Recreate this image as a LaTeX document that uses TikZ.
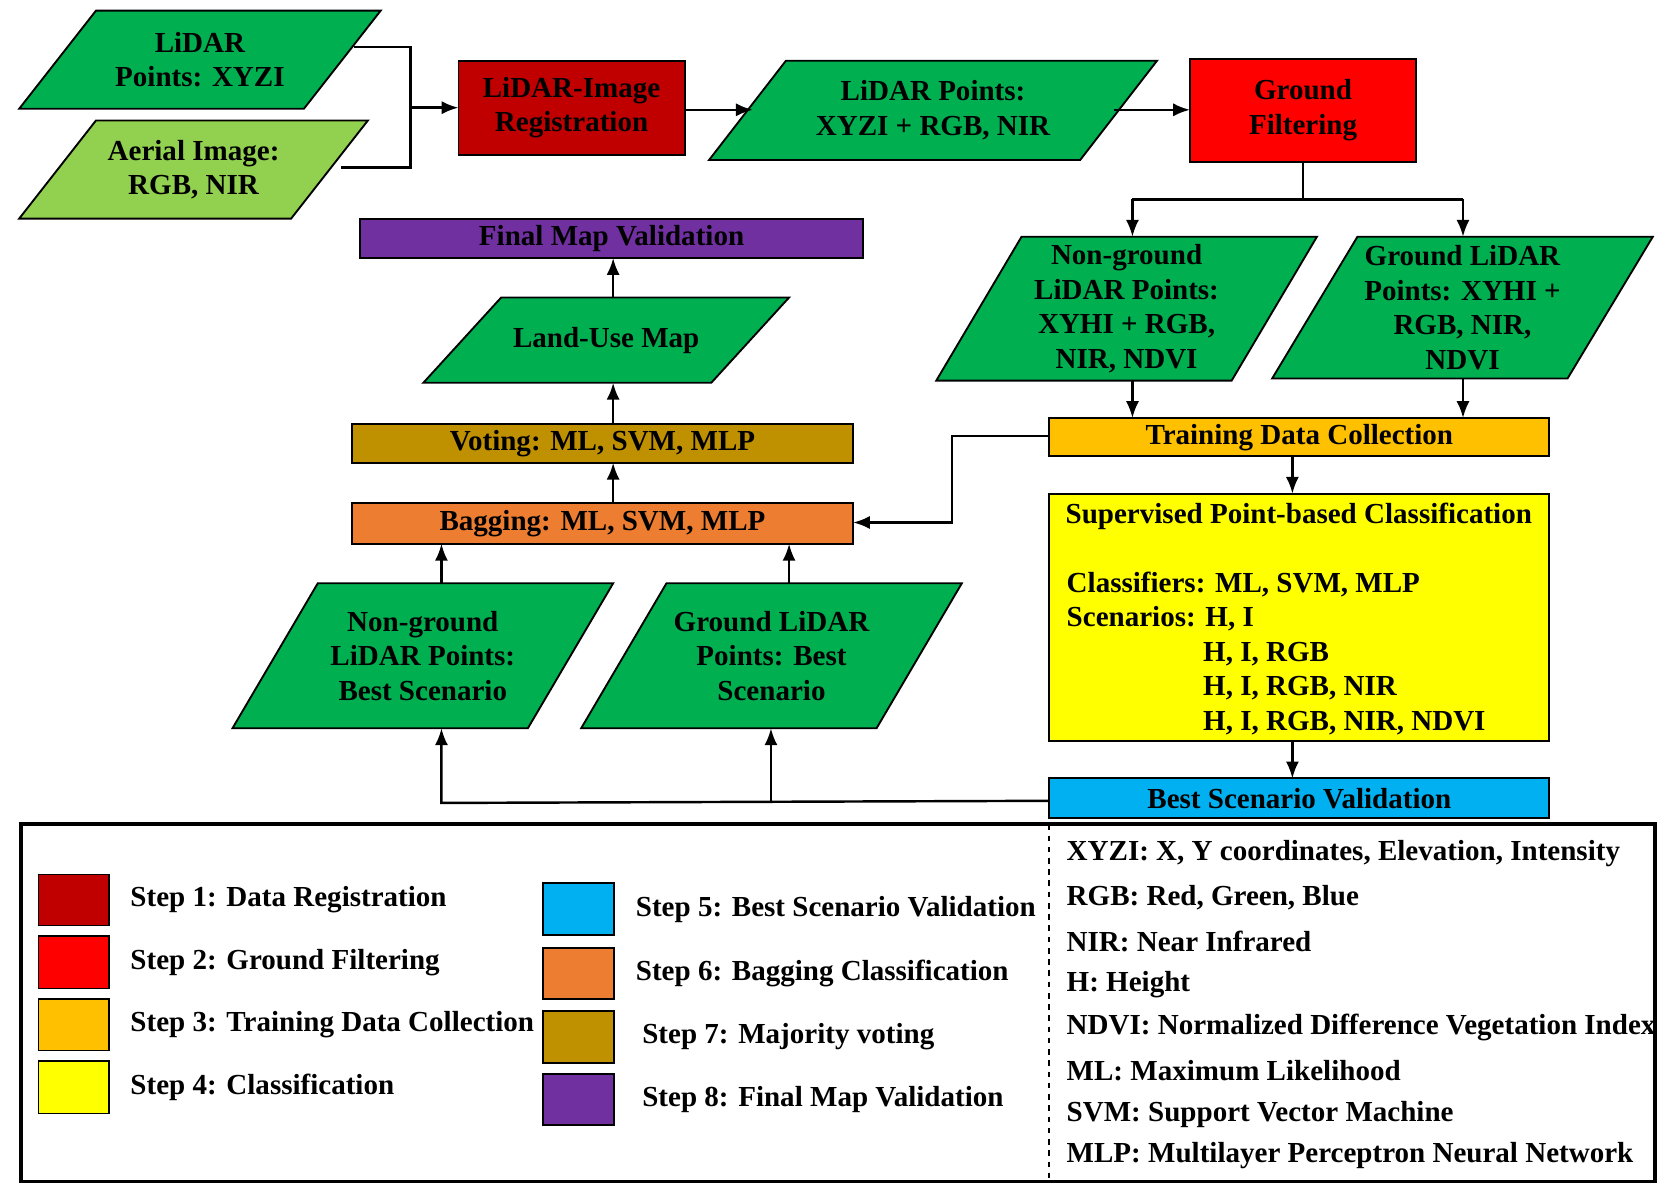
\documentclass[tikz,border=0pt]{standalone}
\usepackage{fontspec}
\setmainfont{Liberation Serif}
\usetikzlibrary{arrows.meta}
\definecolor{dred}{HTML}{C00000}
\definecolor{gfr}{HTML}{FF0000}
\definecolor{tdc}{HTML}{FFC000}
\definecolor{cls}{HTML}{FFFF00}
\definecolor{bsv}{HTML}{00B0F0}
\definecolor{bag}{HTML}{ED7D31}
\definecolor{vot}{HTML}{BF9000}
\definecolor{fmv}{HTML}{7030A0}
\definecolor{grn}{HTML}{00B050}
\definecolor{lgrn}{HTML}{92D050}
\newcommand{\para}[8]{%
  \fill[#7,draw=black,line width=1pt] (#2+#6,#3) -- (#4,#3) -- (#4-#6,#5) -- (#2,#5) -- cycle;
  \node[txt,align=center] (#1) at ({(#2+#4)/2},{(#3+#5)/2}) {#8};
  \coordinate (#1-n) at ({(#2+#4)/2},#3);
  \coordinate (#1-s) at ({(#2+#4)/2},#5);
}
\newcommand{\boxx}[7]{%
  \fill[#6,draw=black,line width=1pt] (#2,#3) rectangle (#4,#5);
  \node[txt,align=center] (#1) at ({(#2+#4)/2},{(#3+#5)/2}) {#7};
}
\begin{document}
\begin{tikzpicture}[x=0.02cm,y=-0.02cm,
  txt/.style={font=\fontsize{15.5}{18.5}\selectfont\bfseries,inner sep=0pt},
  ar/.style={line width=1.3pt,-{Latex[length=9pt,width=7pt]}},
  ln/.style={line width=1.3pt}]
\useasboundingbox (0,0) rectangle (1568,1124);
% top row
\para{lx}{18}{10}{357}{102}{72}{grn}{LiDAR\\Points: XYZI}
\para{ai}{18}{113}{345}{205}{72}{lgrn}{Aerial Image:\\RGB, NIR}
\boxx{reg}{430}{57}{642}{145}{dred}{LiDAR-Image\\Registration}
\para{lp}{665}{57}{1085}{150}{72}{grn}{LiDAR Points:\\XYZI + RGB, NIR}
\boxx{gf}{1116}{55}{1328}{152}{gfr}{Ground\\Filtering}
% right branch
\para{ng}{878}{222}{1235}{357}{80}{grn}{Non-ground\\LiDAR Points:\\XYHI + RGB,\\NIR, NDVI}
\para{gl}{1193}{222}{1550}{355}{80}{grn}{Ground LiDAR\\Points: XYHI +\\RGB, NIR,\\NDVI}
\boxx{tdc}{984}{392}{1453}{428}{tdc}{Training Data Collection}
\fill[cls,draw=black,line width=1pt] (984,463) rectangle (1453,695);
\node[txt] (sup) at (1218,484) {Supervised Point-based Classification};
\node[txt,anchor=west] (c1) at (1000,548) {Classifiers: ML, SVM, MLP};
\node[txt,anchor=west] (c2) at (1000,580) {Scenarios: H, I};
\node[txt,anchor=west] (c3) at (1128,613) {H, I, RGB};
\node[txt,anchor=west] (c4) at (1128,645) {H, I, RGB, NIR};
\node[txt,anchor=west] (c5) at (1128,678) {H, I, RGB, NIR, NDVI};
\coordinate (sup-n) at (1212,463);
\coordinate (sup-s) at (1212,695);
\boxx{bsv}{984}{730}{1453}{767}{bsv}{Best Scenario Validation}
% left column
\boxx{fmv}{338}{205}{809}{242}{fmv}{Final Map Validation}
\para{lu}{397}{279}{740}{359}{73}{grn}{Land-Use Map}
\boxx{vot}{330}{398}{800}{434}{vot}{Voting: ML, SVM, MLP}
\boxx{bag}{330}{472}{800}{510}{bag}{Bagging: ML, SVM, MLP}
\para{ngb}{218}{547}{575}{683}{80}{grn}{Non-ground\\LiDAR Points:\\Best Scenario}
\para{glb}{545}{547}{902}{683}{80}{grn}{Ground LiDAR\\Points: Best\\Scenario}
% connectors
\coordinate (j1) at (385,101);
\draw[ln] (332,44) -- (385,44) -- (385,157) -- (320,157);
\draw[ar] (j1) -- (430,101);
\draw[ar] (642,103) -- (706,103);
\draw[ar] (1045,103) -- (1116,103);
\draw[ln] (1222,152) -- (1222,187);
\draw[ar] (1062,187) -- (1062,222);
\draw[ar] (1372,187) -- (1372,222);
\draw[ln] (1062,187) -- (1372,187);
\draw[ar] (1062,357) -- (1062,392);
\draw[ar] (1372,355) -- (1372,392);
\draw[ar] (984,409) -- (893,409) -- (893,490) -- (800,490);
\draw[ar] (1212,428) -- (sup-n);
\draw[ar] (sup-s) -- (1212,730);
\draw[ar] (984,751) -- (414,753) -- (414,683);
\draw[ar] (723,752) -- (723,683);
\draw[ar] (414,547) -- (414,510);
\draw[ar] (740,547) -- (740,510);
\draw[ar] (575,472) -- (575,434);
\draw[ar] (575,398) -- (575,359);
\draw[ar] (575,279) -- (575,242);
% legend
\draw[line width=2pt] (20,773) rectangle (1552,1108);
\draw[line width=1pt,dashed] (984,773) -- (984,1108);
\foreach \c/\a/\b/\t [count=\i] in {dred/820/868/{Step 1: Data Registration},gfr/878/927/{Step 2: Ground Filtering},tdc/937/985/{Step 3: Training Data Collection},cls/995/1044/{Step 4: Classification}}{
  \fill[\c,draw=black,line width=0.8pt] (36,\a) rectangle (102,\b);
  \node[txt,anchor=west] (la\i) at (122,{(\a+\b)/2}) {\t};}
\foreach \c/\a/\b/\x/\t [count=\i] in {bsv/828/877/596/{Step 5: Best Scenario Validation},bag/889/937/596/{Step 6: Bagging Classification},vot/948/997/602/{Step 7: Majority voting},fmv/1007/1055/602/{Step 8: Final Map Validation}}{
  \fill[\c,draw=black,line width=0.8pt] (509,\a) rectangle (576,\b);
  \node[txt,anchor=west] (lb\i) at (\x,{(\a+\b)/2}) {\t};}
\foreach \y/\t [count=\i] in {800/{XYZI: X, Y coordinates, Elevation, Intensity},842/{RGB: Red, Green, Blue},883/{NIR: Near Infrared},923/{H: Height},964/{NDVI: Normalized Difference Vegetation Index},1004/{ML: Maximum Likelihood},1045/{SVM: Support Vector Machine},1084/{MLP: Multilayer Perceptron Neural Network}}{
  \node[txt,anchor=west] (lc\i) at (1000,\y) {\t};}
\end{tikzpicture}
\end{document}
